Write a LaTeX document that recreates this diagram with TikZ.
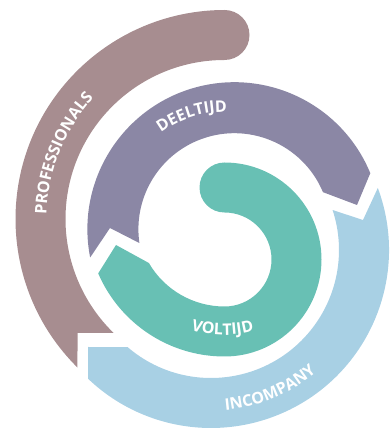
\documentclass[tikz,border=0pt]{standalone}
\usepackage{fontspec}
\setmainfont{Open Sans}
\usetikzlibrary{decorations.text,calc}
\definecolor{profc}{HTML}{A78D90}
\definecolor{purc}{HTML}{8B87A5}
\definecolor{teac}{HTML}{68C0B4}
\definecolor{lbc}{HTML}{A8D0E4}
\tikzset{
  lbl/.style={decorate, decoration={text along path, text align=center, text color=white,
     text={|\fontsize{16}{16}\selectfont\bfseries|#1}}}
}
\begin{document}
\begin{tikzpicture}[x=1pt,y=1pt]
\useasboundingbox (0,0) rectangle (389,429);
\coordinate (P) at (224.5,210);
\coordinate (U) at (234.4,199.8);
\coordinate (B) at (211,179);
\coordinate (T) at (224.5,169.5);
% professionals
\fill[profc] ($(P)+(225.3:209)$) arc[start angle=225.3, end angle=90, radius=209]
  arc[start angle=90, end angle=-90, radius=25]
  arc[start angle=90, end angle=225.8, radius=159]
  -- (77.5,96) -- cycle;
% light blue
\fill[lbc] ($(B)+(20.4:178)$) arc[start angle=20.4, end angle=-133.7, radius=178]
  -- (88,82) -- ($(B)+(-130.7:128)$)
  arc[start angle=-130.7, end angle=18.2, radius=128]
  -- (363,209) -- cycle;
% purple
\fill[purc] ($(U)+(191.1:147)$) arc[start angle=191.1, end angle=22.4, radius=147]
  -- (357,224) -- ($(U)+(22.7:96)$)
  arc[start angle=22.7, end angle=188.3, radius=96]
  -- (110,201) -- cycle;
% teal
\fill[teac] ($(T)+(90:97)$) arc[start angle=90, end angle=-90, radius=97]
  arc[start angle=-90, end angle=-156.7, radius=137.5]
  -- (116,184) -- ($(P)+(-149.8:87.5)$)
  arc[start angle=-149.8, end angle=-90, radius=87.5]
  arc[start angle=-90, end angle=90, radius=47]
  arc[start angle=270, end angle=90, radius=25] -- cycle;
% labels
\path[lbl=PROFESSIONALS] ($(P)+(188:178)$) arc[start angle=188, end angle=128, radius=178];
\path[lbl=DEELTIJD] ($(P)+(137.5:107)$) arc[start angle=137.5, end angle=77.5, radius=107];
\path[lbl=VOLTIJD] ($(P)+(-121:116)$) arc[start angle=-121, end angle=-61, radius=116];
\path[lbl=INCOMPANY] ($(B)+(-97:161)$) arc[start angle=-97, end angle=-37, radius=161];
\end{tikzpicture}
\end{document}
